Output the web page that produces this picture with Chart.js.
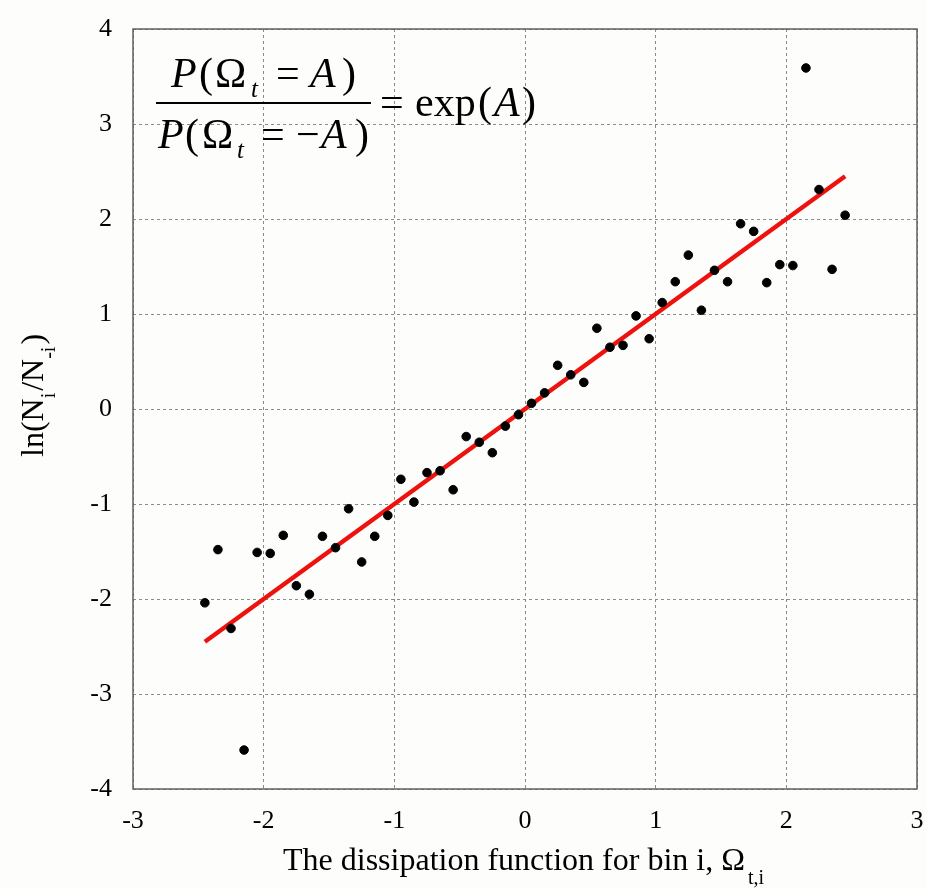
<!DOCTYPE html>
<html>
<head>
<meta charset="utf-8">
<script src="https://cdn.jsdelivr.net/npm/chart.js@4/dist/chart.umd.min.js"></script>
<style>
  body { margin: 0; background: #fdfdfb; }
  #wrap { width: 926px; height: 889px; }
</style>
</head>
<body>
<div id="wrap"><canvas id="fluct" width="926" height="889"></canvas></div>
<script>
// bin centres of the dissipation function
const binCentres = [
  -2.45, -2.35, -2.25, -2.15, -2.05, -1.95, -1.85, -1.75, -1.65, -1.55,
  -1.45, -1.35, -1.25, -1.15, -1.05, -0.95, -0.85, -0.75, -0.65, -0.55,
  -0.45, -0.35, -0.25, -0.15, -0.05, 0.05, 0.15, 0.25, 0.35, 0.45,
  0.55, 0.65, 0.75, 0.85, 0.95, 1.05, 1.15, 1.25, 1.35, 1.45,
  1.55, 1.65, 1.75, 1.85, 1.95, 2.05, 2.15, 2.25, 2.35, 2.45
];
// ln(N_i / N_-i) per bin
const logRatio = [
  -2.04, -1.48, -2.31, -3.59, -1.51, -1.52, -1.33, -1.86, -1.95, -1.34,
  -1.46, -1.05, -1.61, -1.34, -1.12, -0.74, -0.98, -0.67, -0.65, -0.85,
  -0.29, -0.35, -0.46, -0.18, -0.06, 0.06, 0.17, 0.46, 0.36, 0.28,
  0.85, 0.65, 0.67, 0.98, 0.74, 1.12, 1.34, 1.62, 1.04, 1.46,
  1.34, 1.95, 1.87, 1.33, 1.52, 1.51, 3.59, 2.31, 1.47, 2.04
];
// theoretical line y = x
const fitX = [-2.45, 2.45];
const fitY = [-2.45, 2.45];

const xTicks = [-3, -2, -1, 0, 1, 2, 3];
const yTicks = [-4, -3, -2, -1, 0, 1, 2, 3, 4];

const serif = '"Liberation Serif", "Times New Roman", serif';

function runs(ctx, x, y, parts) {
  parts.forEach(p => {
    ctx.font = p.font;
    ctx.fillText(p.t, x + p.x, y + (p.dy || 0));
  });
}

const textPlugin = {
  id: 'textPlugin',
  afterDraw(chart) {
    const { ctx, chartArea: a } = chart;
    ctx.save();
    // frame round the plot
    ctx.strokeStyle = '#606060';
    ctx.lineWidth = 1.5;
    ctx.strokeRect(a.left, a.top, a.right - a.left, a.bottom - a.top);

    ctx.fillStyle = '#000';
    ctx.textAlign = 'left';
    ctx.textBaseline = 'alphabetic';

    const big = '42px ' + serif;
    const bigI = 'italic 42px ' + serif;
    const subI = 'italic 25px ' + serif;
    const ox = a.left - 133, oy = a.top - 29;

    // numerator
    runs(ctx, ox, oy + 87, [
      { t: 'P', x: 171, font: bigI },
      { t: '(', x: 199, font: big },
      { t: 'Ω', x: 215, font: big },
      { t: 't', x: 251, font: subI, dy: 10 },
      { t: '=', x: 276, font: big },
      { t: 'A', x: 310, font: bigI },
      { t: ')', x: 342, font: big }
    ]);
    // denominator
    runs(ctx, ox, oy + 148, [
      { t: 'P', x: 158, font: bigI },
      { t: '(', x: 185, font: big },
      { t: 'Ω', x: 202, font: big },
      { t: 't', x: 237, font: subI, dy: 10 },
      { t: '=', x: 261, font: big },
      { t: '−', x: 296, font: big },
      { t: 'A', x: 321, font: bigI },
      { t: ')', x: 355, font: big }
    ]);
    ctx.fillRect(ox + 156, oy + 102, 215, 2);
    runs(ctx, ox, oy + 116, [
      { t: '=', x: 380, font: big },
      { t: 'exp', x: 415, font: big },
      { t: '(', x: 478, font: big },
      { t: 'A', x: 494, font: bigI },
      { t: ')', x: 522, font: big }
    ]);

    // x axis title
    let x = 283;
    const yb = a.bottom + 81;
    ctx.font = '32px ' + serif;
    const xt = 'The dissipation function for bin i, Ω';
    ctx.fillText(xt, x, yb);
    x += ctx.measureText(xt).width + 3;
    ctx.font = '20px ' + serif;
    ctx.fillText('t,i', x, yb + 14);

    // y axis title, rotated
    ctx.translate(43, 457);
    ctx.rotate(-Math.PI / 2);
    let p = 0;
    [['ln(N', 32, 0], ['i', 20, 12], ['/N', 32, 0], ['-i', 20, 12], [')', 32, 0]].forEach(r => {
      ctx.font = r[1] + 'px ' + serif;
      ctx.fillText(r[0], p, r[2]);
      p += ctx.measureText(r[0]).width + (r[1] === 20 ? 2 : 0);
    });
    ctx.restore();
  }
};

const gridStyle = {
  color: '#8a8a8a',
  lineWidth: 1,
  drawTicks: false
};

new Chart(document.getElementById('fluct'), {
  type: 'scatter',
  data: {
    datasets: [
      {
        label: 'bins',
        data: binCentres.map((v, i) => ({ x: v, y: logRatio[i] })),
        backgroundColor: '#000',
        borderColor: '#000',
        pointRadius: 4.3,
        order: 1
      },
      {
        type: 'line',
        label: 'exp(A)',
        data: fitX.map((v, i) => ({ x: v, y: fitY[i] })),
        borderColor: 'rgb(238,18,14)',
        borderWidth: 4.5,
        pointRadius: 0,
        fill: false,
        order: 2
      }
    ]
  },
  options: {
    responsive: false,
    animation: false,
    devicePixelRatio: 1,
    layout: { autoPadding: false, padding: { top: 29, right: 9, left: 0, bottom: 0 } },
    plugins: {
      legend: { display: false },
      tooltip: { enabled: false }
    },
    scales: {
      x: {
        type: 'linear',
        min: -3,
        max: 3,
        afterBuildTicks: s => { s.ticks = xTicks.map(v => ({ value: v })); },
        afterFit: s => { s.height = 100; s.paddingLeft = 0; s.paddingRight = 0; },
        ticks: {
          color: '#000',
          font: { family: serif, size: 26 },
          padding: 17,
          maxRotation: 0
        },
        grid: gridStyle,
        border: { display: false, dash: [3, 3] }
      },
      y: {
        type: 'linear',
        min: -4,
        max: 4,
        afterBuildTicks: s => { s.ticks = yTicks.map(v => ({ value: v })); },
        afterFit: s => { s.width = 133; s.paddingTop = 0; s.paddingBottom = 0; },
        ticks: {
          color: '#000',
          font: { family: serif, size: 26 },
          padding: 21
        },
        grid: gridStyle,
        border: { display: false, dash: [3, 3] }
      }
    }
  },
  plugins: [textPlugin]
});
</script>
</body>
</html>
